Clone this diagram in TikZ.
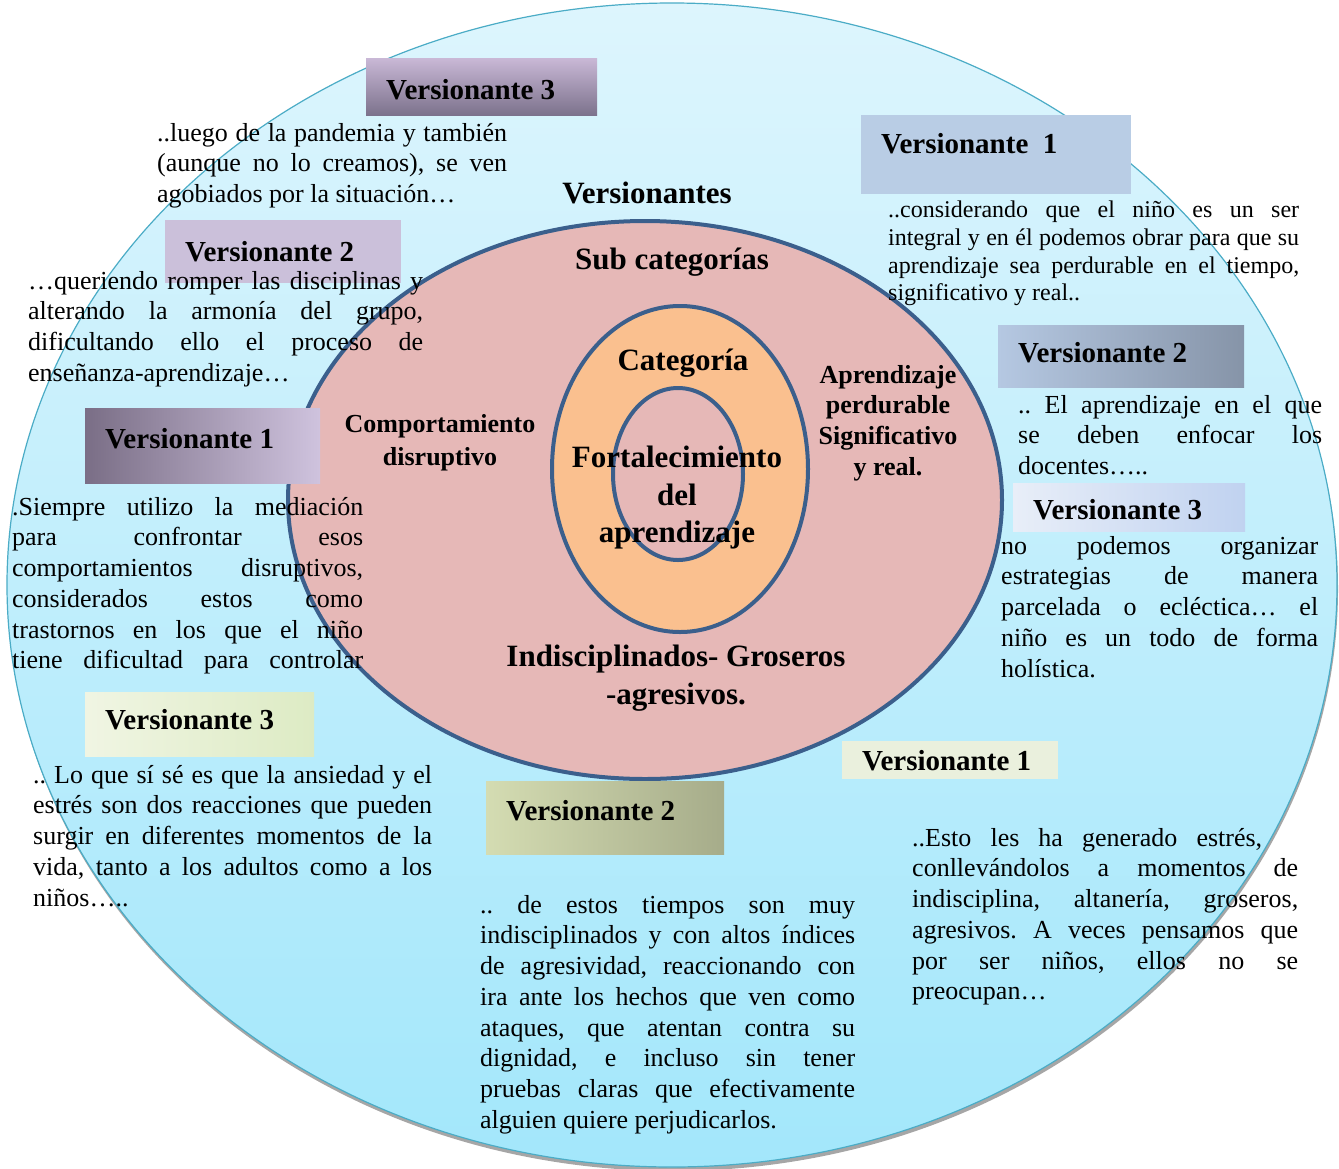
\documentclass[tikz,border=0pt]{standalone}
\usepackage{fontspec}
\setmainfont{Liberation Serif}
\definecolor{outerTop}{HTML}{DDF5FD}
\definecolor{outerBot}{HTML}{A3E7FB}
\definecolor{outerLine}{HTML}{4BACC6}
\definecolor{ringblue}{HTML}{3B5F8C}
\definecolor{pinkfill}{HTML}{E6B8B7}
\definecolor{orangefill}{HTML}{FAC08F}
\hbadness=10000

\begin{document}
\begin{tikzpicture}[x=1pt,y=-1pt,
  title/.style={font=\bfseries\fontsize{31}{37.5}\selectfont,align=center,inner sep=0pt},
  sub title/.style={font=\bfseries\fontsize{26}{31}\selectfont,align=center,inner sep=0pt},
  ver box/.style={rectangle,anchor=north west,inner xsep=20pt,inner ysep=0pt,align=flush left,
    font=\bfseries\fontsize{29}{34}\selectfont},
  quote/.style={anchor=north west,inner sep=0pt,align=justify,
    font=\fontsize{26}{30.7}\selectfont\frenchspacing},
  ring/.style={draw=ringblue,line width=4pt}]

  \useasboundingbox[fill=white] (0,0) rectangle (1339,1168);

  \fill[black!35] (673,589) ellipse [x radius=665pt,y radius=582pt];
  \shadedraw[top color=outerTop,bottom color=outerBot,draw=outerLine,line width=1.2pt]
    (672,585) ellipse [x radius=665pt,y radius=582pt];
  \draw[ring,fill=pinkfill] (645,500) ellipse [x radius=357pt,y radius=279pt];
  \draw[ring,fill=orangefill] (680,469) ellipse [x radius=128pt,y radius=163pt];
  \draw[ring,fill=pinkfill] (678,474) ellipse [x radius=65pt,y radius=86pt];

  \node[title] (vers) at (647,193) {Versionantes};
  \node[title] (subcat) at (672,262) {Sub categorías};
  \node[title] (cat) at (683,363) {Categoría};
  \node[title] (fort) at (677,498) {Fortalecimiento\\del\\aprendizaje};
  \node[sub title,font=\bfseries\fontsize{26}{33}\selectfont] (comp) at (440,443)
    {Comportamiento\\disruptivo};
  \node[sub title,font=\bfseries\fontsize{26}{30.7}\selectfont] (aprend) at (888,423)
    {Aprendizaje\\perdurable\\Significativo\\y real.};
  \node[title,font=\bfseries\fontsize{31}{38}\selectfont] (indisc) at (676,678)
    {Indisciplinados- Groseros\\-agresivos.};

  \node[ver box,minimum width=231pt,minimum height=57pt,text width=191pt,text height=26pt,
    top color={rgb,255:red,201;green,184;blue,214},bottom color={rgb,255:red,124;green,114;blue,140}]
    (v3a) at (366,58) {Versionante 3};
  \node[ver box,minimum width=236pt,minimum height=63pt,text width=196pt,
    fill={rgb,255:red,203;green,192;blue,218}] (v2a) at (165,220) {Versionante 2};
  \node[ver box,minimum width=270pt,minimum height=79pt,text width=230pt,text depth=22pt,
    fill={rgb,255:red,185;green,205;blue,229}] (v1a) at (861,115) {Versionante~\ 1};
  \node[ver box,minimum width=246pt,minimum height=62pt,text width=206pt,text depth=8pt,
    left color={rgb,255:red,181;green,200;blue,226},right color={rgb,255:red,134;green,148;blue,168}]
    (v2b) at (998,325) {Versionante 2};
  \node[ver box,minimum width=232pt,minimum height=48pt,text width=192pt,text height=26pt,
    left color={rgb,255:red,232;green,238;blue,248},right color={rgb,255:red,192;green,210;blue,240}]
    (v3b) at (1013,483) {Versionante 3};
  \node[ver box,minimum width=235pt,minimum height=75pt,text width=195pt,text depth=14pt,
    left color={rgb,255:red,122;green,110;blue,134},right color={rgb,255:red,207;green,195;blue,222}]
    (v1b) at (85,408) {Versionante 1};
  \node[ver box,minimum width=229pt,minimum height=64pt,text width=189pt,text depth=10pt,
    left color={rgb,255:red,240;green,245;blue,227},right color={rgb,255:red,221;green,235;blue,196}]
    (v3c) at (85,692) {Versionante 3};
  \node[ver box,minimum width=238pt,minimum height=73pt,text width=198pt,text depth=14pt,
    left color={rgb,255:red,212;green,220;blue,178},right color={rgb,255:red,166;green,172;blue,138}]
    (v2c) at (486,781) {Versionante 2};
  \node[ver box,minimum width=216pt,minimum height=38pt,text width=176pt,
    fill={rgb,255:red,234;green,240;blue,221}] (v1c) at (842,741) {Versionante 1};

  \node[quote,text width=350pt] (q3a) at (157,123)
    {..luego de la pandemia y también\linebreak (aunque no lo creamos), se ven\linebreak
     agobiados por la situación…};
  \node[quote,text width=395pt] (q2a) at (28,271)
    {…queriendo romper las disciplinas y\linebreak alterando la armonía del grupo,\linebreak
     dificultando ello el proceso de\linebreak enseñanza-aprendizaje…};
  \node[quote,text width=411pt,font=\fontsize{24}{27.7}\selectfont] (q1a) at (888,201)
    {..considerando que el niño es un ser\linebreak integral y en él podemos obrar para que su\linebreak
     aprendizaje sea perdurable en el tiempo,\linebreak significativo y real..};
  \node[quote,text width=304pt] (q2b) at (1018,395)
    {.. El aprendizaje en el que\linebreak se deben enfocar los\linebreak docentes…..};
  \node[quote,text width=317pt] (q3b) at (1001,536)
    {no podemos organizar\linebreak estrategias de manera\linebreak parcelada o ecléctica… el\linebreak
     niño es un todo de forma\linebreak holística.};
  \node[quote,text width=351pt] (q1b) at (12,497)
    {.Siempre utilizo la mediación\linebreak para confrontar esos\linebreak
     comportamientos disruptivos,\linebreak considerados estos como\linebreak
     trastornos en los que el niño\linebreak \makebox[351pt][s]{tiene dificultad para controlar}};
  \node[quote,text width=399pt] (q3c) at (33,765)
    {.. Lo que sí sé es que la ansiedad y el\linebreak estrés son dos reacciones que pueden\linebreak
     surgir en diferentes momentos de la\linebreak vida, tanto a los adultos como a los\linebreak niños…..};
  \node[quote,text width=375pt] (q2c) at (480,895)
    {.. de estos tiempos son muy\linebreak indisciplinados y con altos índices\linebreak
     de agresividad, reaccionando con\linebreak ira ante los hechos que ven como\linebreak
     ataques, que atentan contra su\linebreak dignidad, e incluso sin tener\linebreak
     pruebas claras que efectivamente\linebreak alguien quiere perjudicarlos.};
  \node[quote,text width=386pt] (q1c) at (912,828)
    {\makebox[350pt][s]{..Esto les ha generado estrés,}\\ conllevándolos a momentos de\linebreak
     indisciplina, altanería, groseros,\linebreak agresivos. A veces pensamos que\linebreak
     por ser niños, ellos no se\linebreak preocupan…};
\end{tikzpicture}
\end{document}
